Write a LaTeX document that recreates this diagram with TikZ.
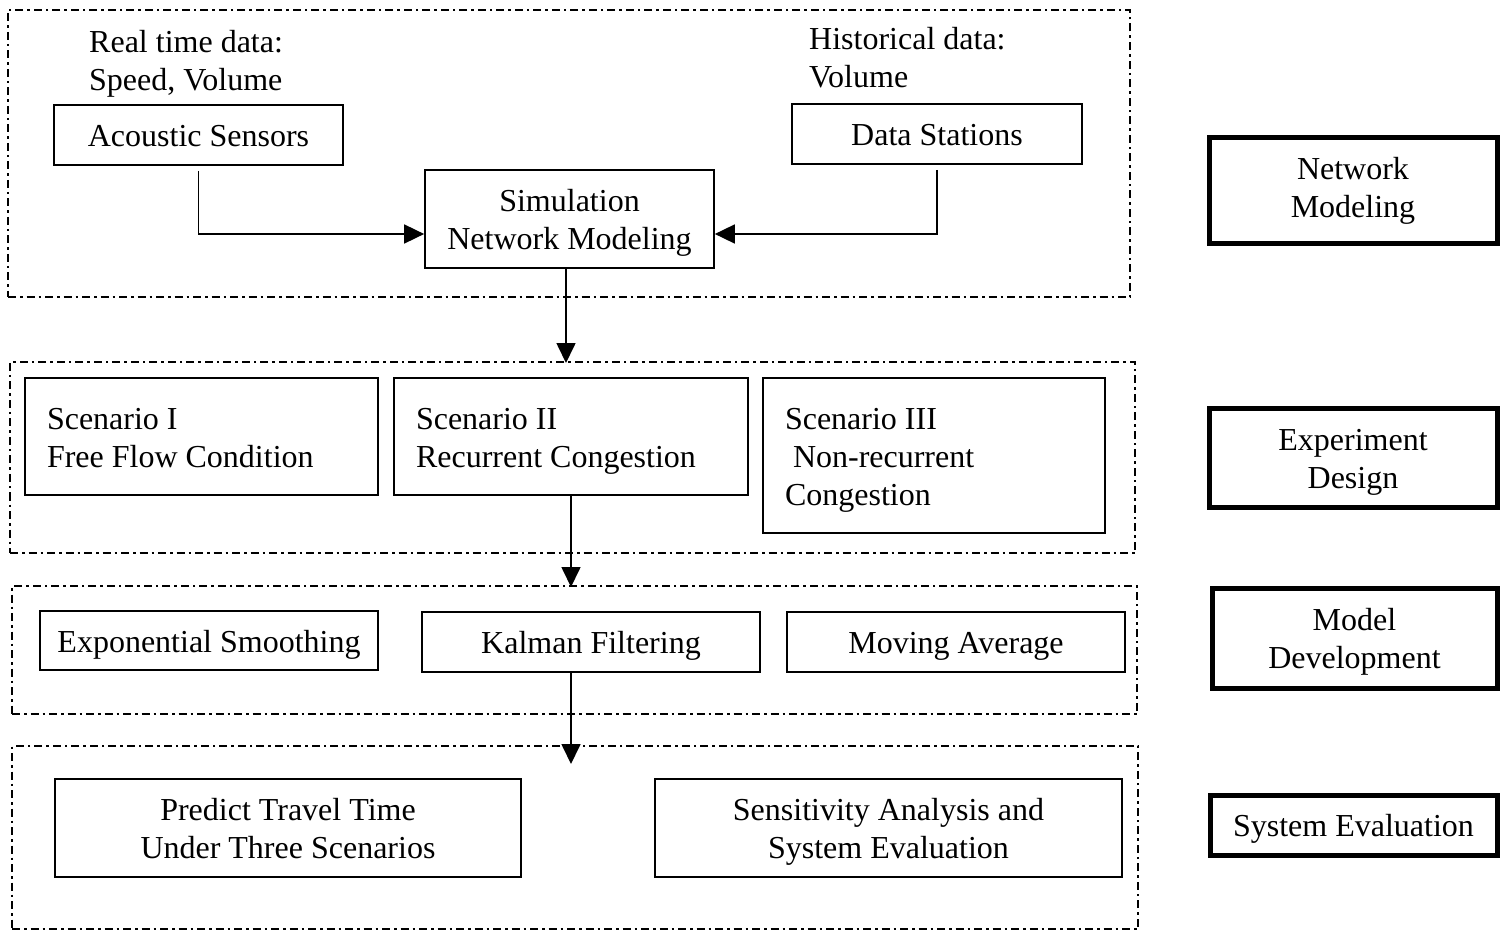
\documentclass[tikz,border=0pt]{standalone}
\usepackage{fontspec}
\setmainfont{Liberation Serif}
\usetikzlibrary{arrows.meta}
\newcommand\zs{\rule[-7pt]{0pt}{37pt}}
\begin{document}
\begin{tikzpicture}[x=1pt,y=-1pt,
  every node/.style={font=\fontsize{32}{38}\selectfont},
  grp/.style={draw, line width=2pt, dash pattern=on 8pt off 4pt on 2.5pt off 4pt, minimum width=#1, inner sep=0pt},
  grp/.default=100,
  struts/.style={execute at begin node=\zs, execute at end node=\zs},
  box/.style={draw, line width=1.7pt, inner sep=0pt, align=flush center, struts},
  lbox/.style={draw, line width=1.7pt, inner xsep=0pt, inner ysep=0pt, align=flush left, struts},
  side/.style={draw, line width=5pt, inner sep=0pt, align=flush center, struts},
  lab/.style={anchor=west, inner sep=0pt, align=flush left},
  arr/.style={line width=1.7pt, -{Triangle[length=20pt,width=19pt]}}
]
\useasboundingbox (0,0) rectangle (1500,931);

% groups
\node[grp=1122, minimum height=287] (g1) at (569,153.5) {};
\node[grp=1125, minimum height=191] (g2) at (572.5,457.5) {};
\node[grp=1125, minimum height=128] (g3) at (574.5,650) {};
\node[grp=1126, minimum height=183] (g4) at (575,837.5) {};

% group 1
\node[lab] (rt) at (89,64) {Real time data:\\Speed, Volume};
\node[lab] (hd) at (809,57.5) {Historical data:\\Volume};
\node[box, minimum width=289, minimum height=60] (ac) at (198.5,135) {Acoustic Sensors};
\node[box, minimum width=290, minimum height=60] (ds) at (937,134) {Data Stations};
\node[box, minimum width=289, minimum height=98, text width=280] (sim) at (569.5,219) {Simulation\\Network Modeling};

% group 2
\node[lbox, minimum width=353, minimum height=117, text width=309] (s1) at (201.5,436.5) {Scenario I\\Free Flow Condition};
\node[lbox, minimum width=354, minimum height=117, text width=310] (s2) at (571,436.5) {Scenario II\\Recurrent Congestion};
\node[lbox, minimum width=342, minimum height=155, text width=298] (s3) at (934,455.5) {Scenario III\\\hspace*{8pt}Non-recurrent\\Congestion};

% group 3
\node[box, minimum width=338, minimum height=59] (es) at (209,640.5) {Exponential Smoothing};
\node[box, minimum width=338, minimum height=60] (kf) at (591,642) {Kalman Filtering};
\node[box, minimum width=338, minimum height=60] (ma) at (956,642) {Moving Average};

% group 4
\node[box, minimum width=466, minimum height=98, text width=460] (pt) at (288,828) {Predict Travel Time\\Under Three Scenarios};
\node[box, minimum width=467, minimum height=98, text width=460] (sa) at (888.5,828) {Sensitivity Analysis and\\System Evaluation};

% side labels
\node[side, minimum width=288, minimum height=105] (nm) at (1353,190.5) {Network\\Modeling};
\node[side, minimum width=288, minimum height=99, text width=276] (ed) at (1353,457.5) {Experiment\\Design};
\node[side, minimum width=285, minimum height=100, text width=273] (md) at (1354.5,638) {Model\\Development};
\node[side, minimum width=287, minimum height=60] (se) at (1353.5,825) {System Evaluation};

% connectors
\draw[arr] ([yshift=-5pt]ac.south) |- ([yshift=-15pt]sim.west);
\draw[arr] ([yshift=-5pt]ds.south) |- ([yshift=-15pt]sim.east);
\draw[arr] ([xshift=-3.5pt]sim.south) -- ([xshift=-3.5pt,yshift=-2pt]sim.south |- g2.north);
\draw[arr] (s2.south) -- ([yshift=-2pt]s2.south |- g3.north);
\coordinate (k4) at ([xshift=-20pt]kf.south |- g4.north);
\draw[arr] ([xshift=-20pt]kf.south) -- ([yshift=-19pt]k4);
\end{tikzpicture}
\end{document}
